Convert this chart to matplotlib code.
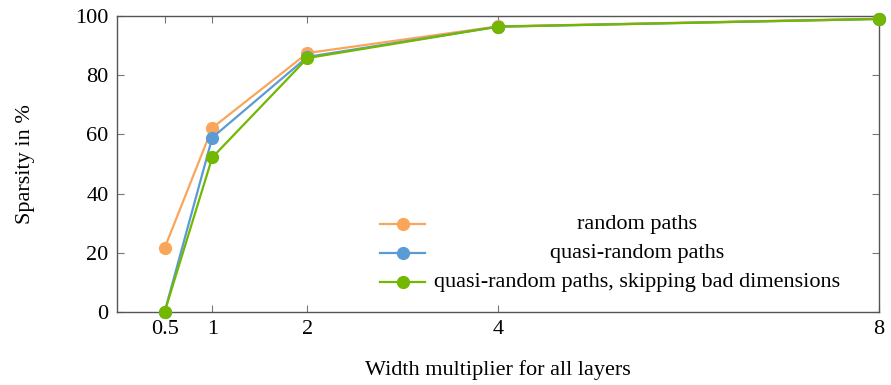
import matplotlib.pyplot as plt
from matplotlib.lines import Line2D

plt.rcParams['font.family'] = ['Liberation Serif', 'DejaVu Serif']

widths = [0.5, 1, 2, 4, 8]
random_paths = [21.6, 62.2, 87.5, 96.5, 99.1]
quasi_paths = [0.0, 58.9, 86.2, 96.4, 99.0]
quasi_skip = [0.0, 52.2, 85.8, 96.4, 99.0]
labels = ['random paths', 'quasi-random paths',
          'quasi-random paths, skipping bad dimensions']
colors = ['#F9A65A', '#5B9BD5', '#72B800']

fig = plt.figure(figsize=(8.91, 3.85), dpi=100)
ax = fig.add_axes([0.1313, 0.1896, 0.8552, 0.7688])

for ys, c in zip([random_paths, quasi_paths, quasi_skip], colors):
    ax.plot(widths, ys, color=c, lw=1.6, marker='o', ms=8.5, clip_on=False, zorder=3)

ax.set_xlim(0, 8)
ax.set_ylim(0, 100)
ax.set_xticks(widths)
ax.set_xticklabels(['0.5', '1', '2', '4', '8'])
ax.set_yticks([0, 20, 40, 60, 80, 100])
ax.tick_params(direction='in', length=5, color='#777777', labelsize=16,
               top=True, right=True, pad=6)
for s in ax.spines.values():
    s.set_color('#555555')
    s.set_linewidth(1.0)

ax.set_xlabel('Width multiplier for all layers', fontsize=16, labelpad=15)
ax.set_ylabel('Sparsity in %', fontsize=16, labelpad=29)

# legend with centred entries (pgfplots style)
rows = [0.297, 0.199, 0.101]
for lab, c, y in zip(labels, colors, rows):
    ax.add_line(Line2D([0.345, 0.404], [y, y], transform=ax.transAxes, color=c, lw=1.6))
    ax.add_line(Line2D([0.375], [y], transform=ax.transAxes, color=c,
                       marker='o', ms=8.5, lw=0))
    ax.text(0.682, y, lab, transform=ax.transAxes, ha='center', va='center',
            fontsize=16)

fig.savefig('out.png', dpi=100)
